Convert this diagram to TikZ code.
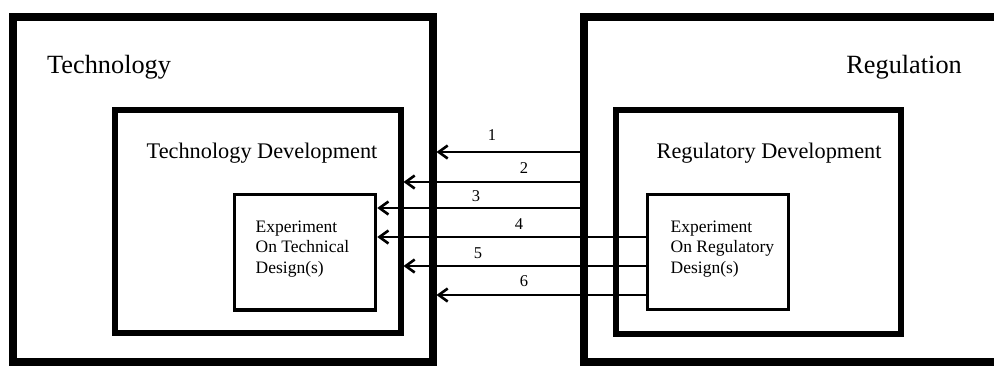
\documentclass[tikz,border=0pt]{standalone}
\usepackage{fontspec}
\setmainfont{Liberation Serif}
\usetikzlibrary{arrows.meta}
\begin{document}
\begin{tikzpicture}[x=1pt, y=-1pt,
  box/.style={draw=black, rectangle, inner sep=0pt},
  outerbox/.style={box, line width=8pt},
  devbox/.style={box, line width=6pt},
  expbox/.style={box, line width=3.5pt},
  heading/.style={inner sep=0pt, font=\fontsize{26.3}{30}\selectfont},
  subheading/.style={inner sep=0pt, font=\fontsize{22.3}{26}\selectfont},
  exptext/.style={inner sep=0pt, align=left, font=\fontsize{17.5}{20.5}\selectfont},
  flow/.style={line width=2.6pt, -{Straight Barb[length=9pt,width=13pt]}},
  num/.style={inner sep=0pt, font=\fontsize{16.5}{19}\selectfont},
]
\path[use as bounding box, clip] (0,0) rectangle (994,365);

% the two domains
\node[outerbox, minimum width=419.5pt, minimum height=344.5pt] (tech) at (222.75,189.25) {};
\node[outerbox, minimum width=426pt, minimum height=344.5pt] (reg) at (797,189.25) {};
% development boxes
\node[devbox, minimum width=286pt, minimum height=223pt] (techdev) at (257.5,221.5) {};
\node[devbox, minimum width=285.5pt, minimum height=223.5pt] (regdev) at (758.25,221.75) {};
% experiment boxes
\node[expbox, minimum width=141pt, minimum height=115.5pt] (techexp) at (305,252.25) {};
\node[expbox, minimum width=141pt, minimum height=115pt] (regexp) at (718,252) {};

% titles (multi-line nodes sit on the baseline of their last line)
\node[heading, anchor=base west] (techtitle) at (47,73) {Technology};
\node[heading, anchor=base east] (regtitle) at (962,73) {Regulation};
\node[subheading, anchor=base west] (techdevtitle) at (146.5,158) {Technology Development};
\node[subheading, anchor=base west] (regdevtitle) at (656.5,158) {Regulatory Development};
\node[exptext, anchor=base west] (techexptext) at (255.5,273) {Experiment\\On Technical\\Design(s)};
\node[exptext, anchor=base west] (regexptext) at (670.5,273) {Experiment\\On Regulatory\\Design(s)};

% rows of the flows
\coordinate (r1) at (0,152);
\coordinate (r2) at (0,182);
\coordinate (r3) at (0,208);
\coordinate (r4) at (0,237);
\coordinate (r5) at (0,266);
\coordinate (r6) at (0,295);

\draw[flow] (reg.west |- r1) -- (tech.east |- r1) node[num] at (492,135.5) {1};
\draw[flow] (reg.west |- r2) -- (techdev.east |- r2) node[num] at (524,168.5) {2};
\draw[flow] (reg.west |- r3) -- (techexp.east |- r3) node[num] at (476,196) {3};
\draw[flow] (regexp.west |- r4) -- (techexp.east |- r4) node[num] at (519,224) {4};
\draw[flow] (regexp.west |- r5) -- (techdev.east |- r5) node[num] at (478,253.5) {5};
\draw[flow] (regexp.west |- r6) -- (tech.east |- r6) node[num] at (524,281) {6};
\end{tikzpicture}
\end{document}
